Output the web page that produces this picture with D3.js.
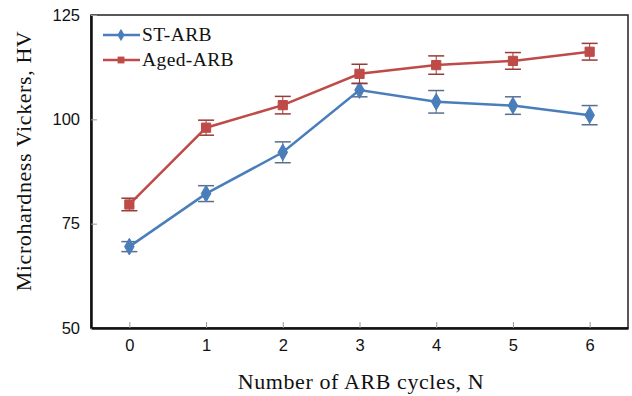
<!DOCTYPE html>
<html>
<head>
<meta charset="utf-8">
<script src="https://cdn.jsdelivr.net/npm/d3@7"></script>
<style>
  body { margin: 0; background: #fff; }
  svg { display: block; }
</style>
</head>
<body>
<div id="chart"></div>
<script>
var cycles = [0, 1, 2, 3, 4, 5, 6];
var stArb = [69.5, 82.2, 92.1, 107.0, 104.2, 103.3, 101.0];
var stErr = [1.2, 1.9, 2.5, 1.6, 2.7, 2.1, 2.3];
var agedArb = [79.6, 98.0, 103.4, 110.9, 113.0, 114.0, 116.2];
var agedErr = [1.5, 1.8, 2.1, 2.3, 2.2, 2.0, 2.0];
var yTicks = [50, 75, 100, 125];

var width = 632;
var height = 396;
var margin = {left: 91, right: 4, top: 15, bottom: 68};

var svg = d3.select("#chart").append("svg")
  .attr("width", width)
  .attr("height", height);

var x = d3.scaleLinear()
  .domain([-0.5, 6.5])
  .range([margin.left, width - margin.right]);

var y = d3.scaleLinear()
  .domain([50, 125])
  .range([height - margin.bottom, margin.top]);

// frame
svg.append("rect")
  .attr("x", margin.left)
  .attr("y", margin.top)
  .attr("width", width - margin.right - margin.left)
  .attr("height", height - margin.bottom - margin.top)
  .attr("fill", "none")
  .attr("stroke", "#222")
  .attr("stroke-width", 1.5);

// y axis
var yAxis = svg.append("g")
  .attr("transform", "translate(" + margin.left + ",0)")
  .call(d3.axisLeft(y).tickValues(yTicks).tickSizeInner(-6).tickSizeOuter(0).tickPadding(11));
yAxis.select(".domain").attr("stroke", "#111").attr("stroke-width", 2.5);
yAxis.selectAll(".tick line").attr("stroke", "#999");
yAxis.selectAll("text")
  .attr("font-family", "Liberation Sans, Arial, sans-serif")
  .attr("font-size", 16.5)
  .attr("fill", "#111");

// x axis
var xAxis = svg.append("g")
  .attr("transform", "translate(0," + y(50) + ")")
  .call(d3.axisBottom(x).tickValues(cycles).tickFormat(d3.format("d")).tickSizeInner(-6).tickSizeOuter(0).tickPadding(11));
xAxis.select(".domain").attr("stroke", "#111").attr("stroke-width", 2.5);
xAxis.selectAll(".tick line").attr("stroke", "#999");
xAxis.selectAll("text")
  .attr("font-family", "Liberation Sans, Arial, sans-serif")
  .attr("font-size", 16.5)
  .attr("fill", "#111");

// axis titles
svg.append("text")
  .attr("x", 361)
  .attr("y", 389)
  .attr("text-anchor", "middle")
  .attr("font-family", "Liberation Serif, Times New Roman, serif")
  .attr("font-size", 22)
  .attr("letter-spacing", 0.6)
  .attr("fill", "#111")
  .text("Number of ARB cycles, N");

svg.append("text")
  .attr("transform", "translate(31,161) rotate(-90)")
  .attr("text-anchor", "middle")
  .attr("font-family", "Liberation Serif, Times New Roman, serif")
  .attr("font-size", 22)
  .attr("letter-spacing", 0.6)
  .attr("fill", "#111")
  .text("Microhardness Vickers, HV");

var series = [
  {name: "ST-ARB", values: stArb, err: stErr, color: "#4a7ebb", cap: "#5a6e8e", shape: d3.symbolDiamond, size: 80},
  {name: "Aged-ARB", values: agedArb, err: agedErr, color: "#be4b48", cap: "#9a3a38", shape: d3.symbolSquare, size: 85}
];

var line = d3.line()
  .x(function(d, i) { return x(cycles[i]); })
  .y(function(d) { return y(d); });

series.forEach(function(s) {
  var g = svg.append("g");
  // error bars
  cycles.forEach(function(c, i) {
    var v = s.values[i], e = s.err[i];
    g.append("line")
      .attr("x1", x(c)).attr("x2", x(c))
      .attr("y1", y(v + e)).attr("y2", y(v - e))
      .attr("stroke", s.cap).attr("stroke-width", 1);
    [v + e, v - e].forEach(function(t) {
      g.append("line")
        .attr("x1", x(c) - 8).attr("x2", x(c) + 8)
        .attr("y1", y(t)).attr("y2", y(t))
        .attr("stroke", s.cap).attr("stroke-width", 1.5);
    });
  });
  g.append("path")
    .datum(s.values)
    .attr("d", line)
    .attr("fill", "none")
    .attr("stroke", s.color)
    .attr("stroke-width", 2.5);
  g.selectAll(".pt")
    .data(s.values)
    .join("path")
    .attr("transform", function(d, i) { return "translate(" + x(cycles[i]) + "," + y(d) + ")"; })
    .attr("d", d3.symbol().type(s.shape).size(s.size))
    .attr("fill", s.color)
    .attr("stroke", s.color);
});

// legend
var legend = svg.append("g");
series.forEach(function(s, i) {
  var ly = 35 + i * 25;
  legend.append("line")
    .attr("x1", 103).attr("x2", 140)
    .attr("y1", ly).attr("y2", ly)
    .attr("stroke", s.color).attr("stroke-width", 2.5);
  legend.append("path")
    .attr("transform", "translate(121," + ly + ")")
    .attr("d", d3.symbol().type(s.shape).size(s.size * 0.55))
    .attr("fill", s.color);
  legend.append("text")
    .attr("x", 142)
    .attr("y", ly + 6)
    .attr("font-family", "Liberation Serif, Times New Roman, serif")
    .attr("font-size", 19.5)
    .attr("letter-spacing", 0.4)
    .attr("fill", "#111")
    .text(s.name);
});
</script>
</body>
</html>
